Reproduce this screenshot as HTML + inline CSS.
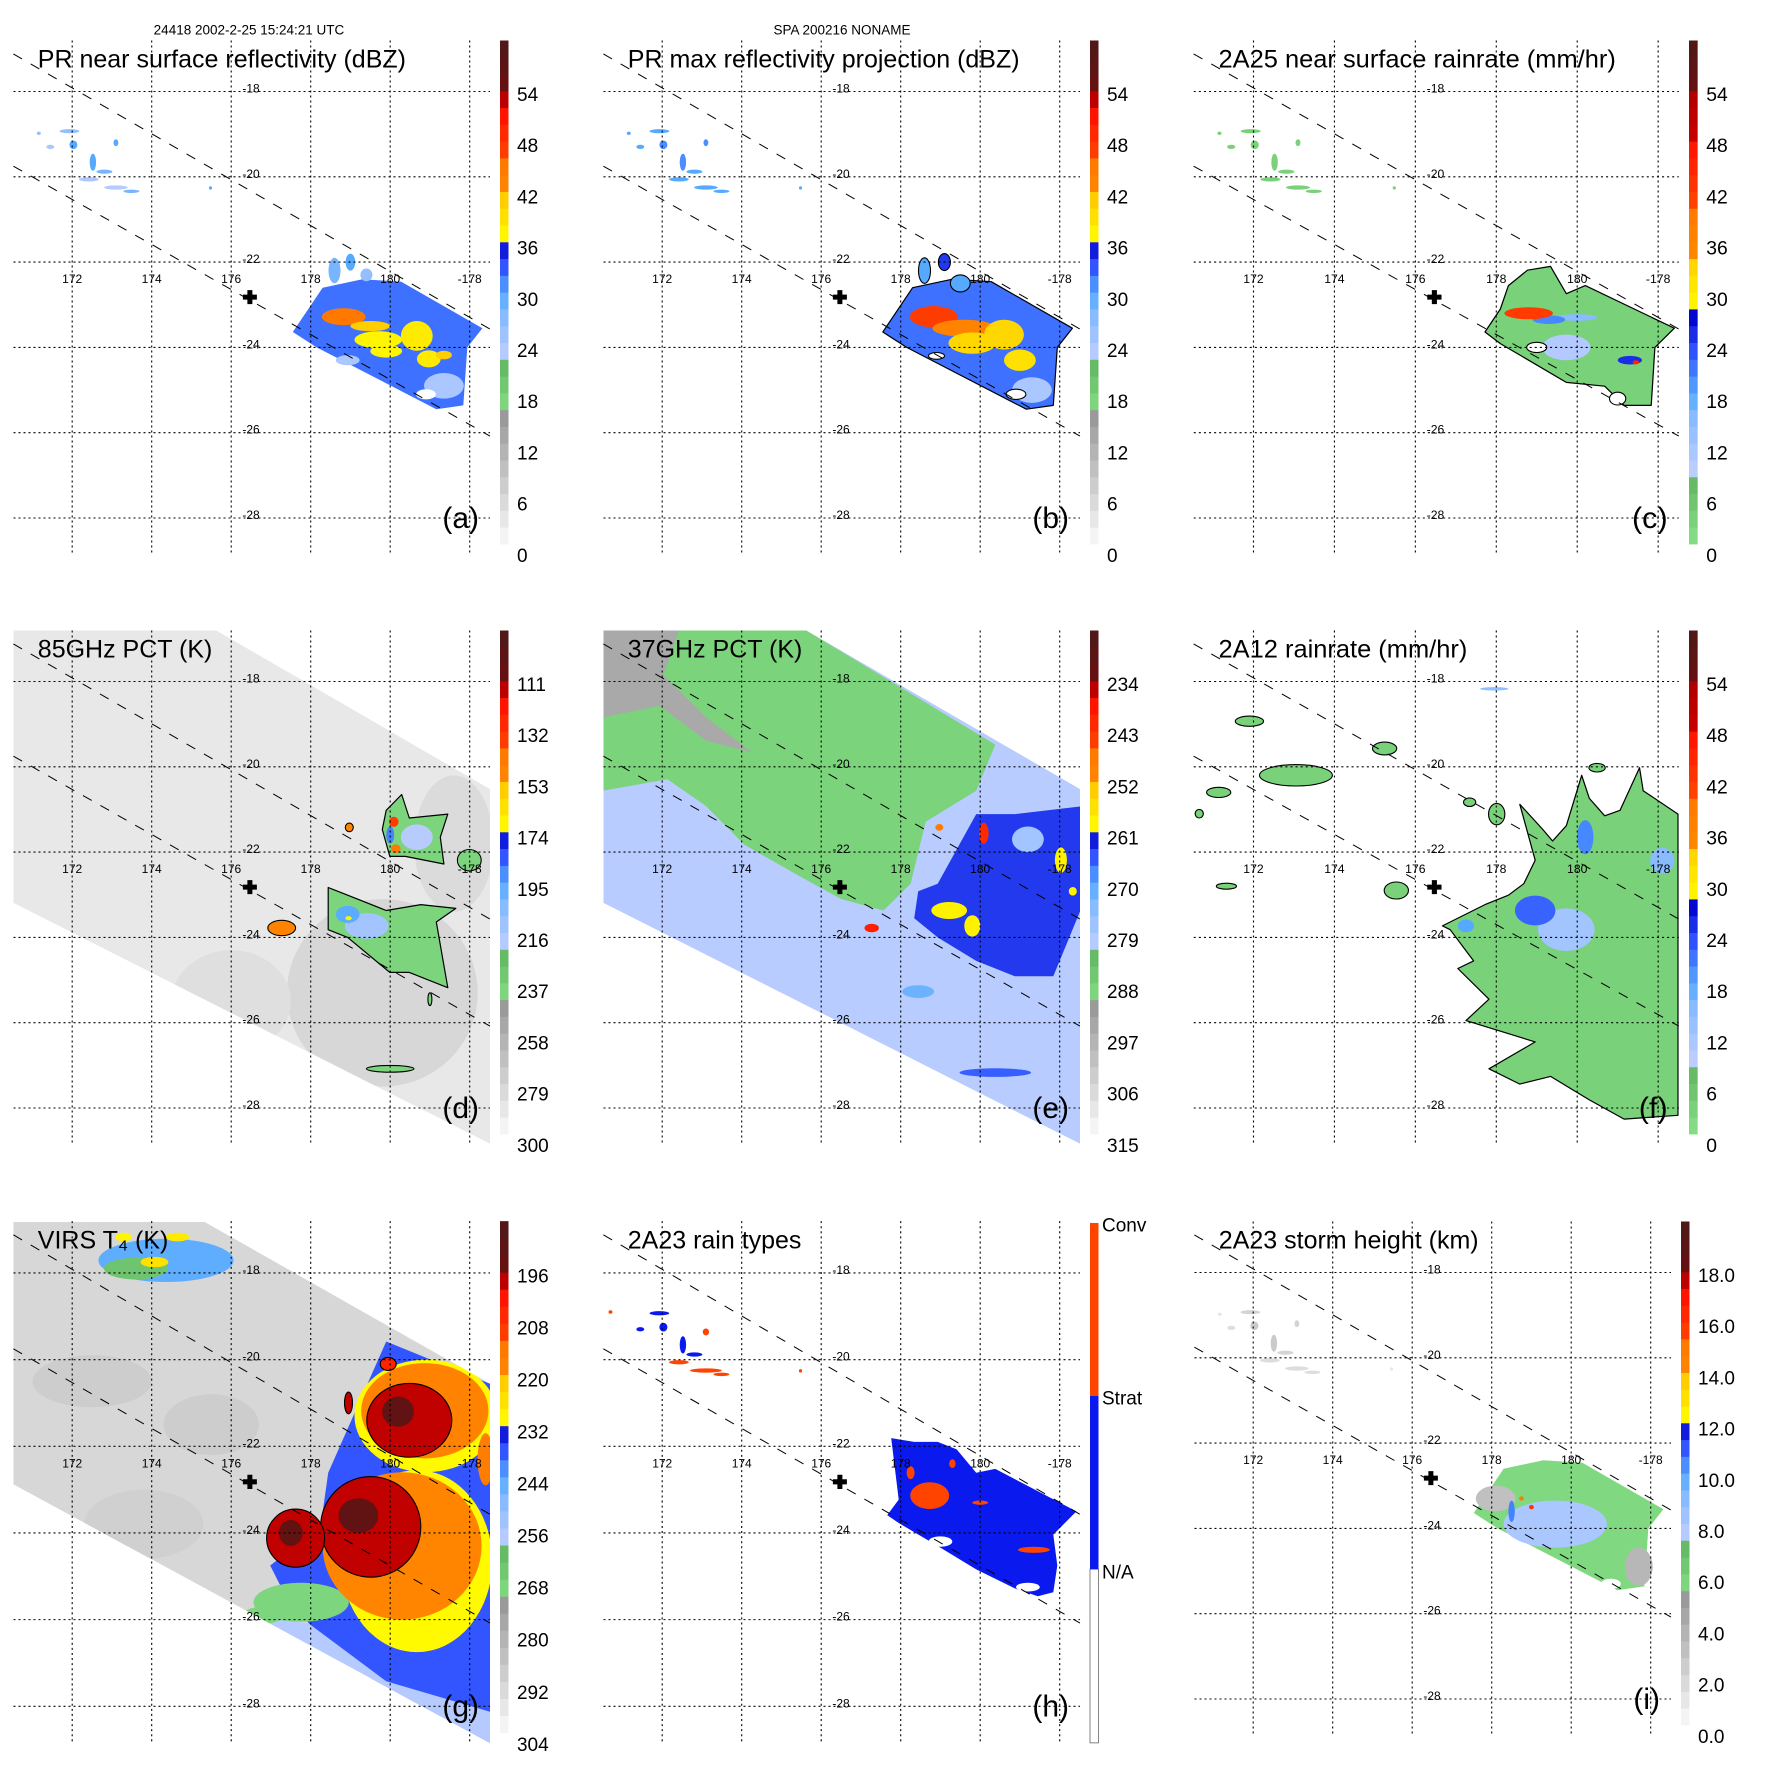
<!DOCTYPE html>
<html><head><meta charset="utf-8"><title>TRMM storm overview</title>
<style>html,body{margin:0;padding:0;background:#fff}svg{display:block}</style></head>
<body>
<svg id="fig" width="1771" height="1771" viewBox="0 0 1771 1771" xmlns="http://www.w3.org/2000/svg" font-family="'Liberation Sans', Arial, sans-serif">
<rect width="1771" height="1771" fill="#fff"/>
<text x="249" y="34.5" font-size="13.5" text-anchor="middle">24418 2002-2-25 15:24:21 UTC</text>
<text x="842" y="34.5" font-size="13.5" text-anchor="middle">SPA 200216 NONAME</text>
</svg>
<script>
const NS = 'http://www.w3.org/2000/svg';
// ---------- shared axis data ----------
const lonTicks = [172, 174, 176, 178, 180, 182];
const lonTickLabels = ['172', '174', '176', '178', '180', '-178'];
const latTicks = [-18, -20, -22, -24, -26, -28];
const latTickLabels = ['-18', '-20', '-22', '-24', '-26', '-28'];
const swathUpper = [[170.52, -17.12], [182.51, -23.57]];
const swathLower = [[170.52, -19.75], [182.51, -26.08]];
const stormCenter = [176.47, -22.82];

// ---------- colorbar tick labels ----------
const ticksDbz = ['0', '6', '12', '18', '24', '30', '36', '42', '48', '54'];
const ticksRain = ['0', '6', '12', '18', '24', '30', '36', '42', '48', '54'];
const ticks85 = ['300', '279', '258', '237', '216', '195', '174', '153', '132', '111'];
const ticks37 = ['315', '306', '297', '288', '279', '270', '261', '252', '243', '234'];
const ticksVirs = ['304', '292', '280', '268', '256', '244', '232', '220', '208', '196'];
const ticksHeight = ['0.0', '2.0', '4.0', '6.0', '8.0', '10.0', '12.0', '14.0', '16.0', '18.0'];
const rainTypeLabels = ['N/A', 'Strat', 'Conv'];

// ---------- field data (lon, lat) ----------
const prMain = [[177.55,-23.64],[178.3,-22.6],[179.3,-22.4],[180.28,-22.46],[182.32,-23.55],[181.94,-24.0],[181.84,-25.36],[181.16,-25.45],[178.15,-24.0]];
const tmiSwath = [[170.52,-16.8],[175.62,-16.8],[182.51,-20.52],[182.51,-28.84],[170.52,-23.19]];
const virsSwath = [[170.52,-16.82],[175.33,-16.82],[182.52,-20.56],[182.52,-28.85],[170.52,-22.88]];

// scatter: lon, lat, rlon, rlat, value
const aScatter = [[171.93,-18.93,.25,.05,26],[171.45,-19.3,.1,.05,24],[172.03,-19.25,.1,.1,30],[172.52,-19.66,.08,.2,30],[172.81,-19.88,.2,.05,28],[173.1,-19.2,.06,.08,30],[172.42,-20.06,.25,.05,24],[173.1,-20.25,.3,.05,23],[173.49,-20.34,.2,.04,28],[175.48,-20.26,.04,.04,30],[171.16,-18.98,.05,.04,26]];
const bScatter = [[171.93,-18.93,.25,.05,30],[171.45,-19.3,.1,.05,30],[172.03,-19.25,.1,.1,31],[172.52,-19.66,.08,.2,31],[172.81,-19.88,.2,.05,30],[173.1,-19.2,.06,.08,31],[172.42,-20.06,.25,.05,30],[173.1,-20.25,.3,.05,30],[173.49,-20.34,.2,.04,30],[175.48,-20.26,.04,.04,30],[171.16,-18.98,.05,.04,30]];
const cScatter = [[171.93,-18.93,.25,.05,3],[171.45,-19.3,.1,.05,3],[172.03,-19.25,.1,.1,3],[172.52,-19.66,.08,.2,3],[172.81,-19.88,.2,.05,3],[173.1,-19.2,.06,.08,3],[172.42,-20.06,.25,.05,3],[173.1,-20.25,.3,.05,3],[173.49,-20.34,.2,.04,3],[175.48,-20.26,.04,.04,3],[171.16,-18.98,.05,.04,3]];
const hScatter = [[171.93,-18.93,.25,.05,1],[171.45,-19.3,.1,.05,1],[172.03,-19.25,.1,.1,1],[172.52,-19.66,.08,.2,1],[172.81,-19.88,.2,.05,1],[173.1,-19.36,.08,.08,2],[172.42,-20.06,.25,.05,2],[173.1,-20.25,.4,.05,2],[173.49,-20.34,.2,.04,2],[175.48,-20.26,.04,.04,2],[170.7,-18.9,.05,.04,2]];
const iScatter = [[171.93,-18.93,.25,.05,2],[171.45,-19.3,.1,.05,1.5],[172.03,-19.25,.1,.1,2.5],[172.52,-19.66,.08,.2,2.5],[172.81,-19.88,.2,.05,2],[173.1,-19.2,.06,.08,2],[172.42,-20.06,.25,.05,1.5],[173.1,-20.25,.3,.05,1.5],[173.49,-20.34,.2,.04,1.5],[175.48,-20.26,.04,.04,1],[171.16,-18.98,.05,.04,1]];

// background shading blobs (drawn before regions)
const dBg = [[179.8,-25.3,2.4,2.2,281,0],[181.6,-21.8,1.0,1.6,283,0],[176.0,-25.5,1.5,1.2,285,0]];
const eBg = [];
const gBg = [[172.5,-20.5,1.5,0.6,290,0],[175.5,-21.5,1.2,0.7,290,0],[173.8,-23.8,1.5,0.8,291,0]];

// polygons: [value, outline, points]
const aPolys = [[32, 0, prMain]];
const bPolys = [[32, 1, prMain]];
const cPolys = [[3, 1, [[177.72,-23.64],[178.1,-23.1],[178.3,-22.55],[178.77,-22.19],[179.34,-22.1],[179.73,-22.74],[180.2,-22.55],[182.4,-23.55],[181.92,-24.0],[181.83,-25.36],[181.16,-25.36],[180.68,-24.91],[179.73,-24.82],[178.1,-23.91]]]];
const dPolys = [
  [240, 1, [[178.44,-22.83],[178.93,-23.01],[179.9,-23.37],[180.77,-23.23],[181.65,-23.32],[181.16,-23.64],[181.45,-25.18],[180.48,-24.82],[179.99,-24.82],[178.93,-24.0],[178.44,-23.82]]],
  [240, 1, [[179.9,-21.02],[180.29,-20.65],[180.48,-21.2],[181.45,-21.11],[181.26,-21.65],[181.35,-22.28],[180.38,-22.1],[179.99,-22.1],[179.8,-21.47]]]
];
const ePolys = [
  [289, 0, [[170.52,-16.8],[175.62,-16.8],[180.38,-19.48],[179.9,-20.56],[178.63,-21.29],[178.25,-22.74],[177.57,-23.37],[176.5,-23.1],[175.43,-22.55],[174.07,-21.83],[173.1,-20.92],[172.13,-20.29],[170.52,-20.56]]],
  [296, 0, [[170.52,-16.8],[172.42,-16.8],[172.03,-17.85],[173.1,-18.84],[174.26,-19.66],[173.1,-19.39],[171.93,-18.57],[170.52,-18.84]]],
  [264, 0, [[178.44,-22.92],[178.93,-22.74],[179.9,-21.11],[180.87,-21.11],[182.52,-20.93],[182.52,-23.37],[181.84,-24.91],[180.87,-24.91],[179.9,-24.55],[178.93,-24.0],[178.34,-23.55]]]
];
const fPolys = [[3, 1, [[176.67,-23.73],[177.72,-23.23],[178.3,-23.01],[178.68,-22.74],[178.96,-22.19],[178.58,-20.88],[179.15,-21.47],[179.39,-21.74],[179.73,-21.38],[180.11,-20.2],[180.3,-20.74],[180.68,-21.15],[181.06,-21.02],[181.54,-20.02],[181.63,-20.56],[182.49,-21.11],[182.49,-28.17],[181.16,-28.26],[180.3,-27.81],[179.34,-27.26],[178.58,-27.44],[177.82,-27.08],[178.96,-26.45],[177.25,-25.95],[177.82,-25.45],[177.05,-24.73],[177.44,-24.55],[176.86,-23.82]]]];
const gPolys = [
  [238, 0, [[178.44,-22.61],[179.9,-19.58],[182.52,-20.56],[182.52,-28.85],[181.84,-28.85],[178.93,-26.98],[177.47,-25.64],[176.98,-24.75],[178.25,-23.86]]],
  [258, 0, [[176.01,-25.82],[177.95,-26.09],[179.9,-27.42],[182.52,-28.13],[182.52,-28.85],[181.35,-28.85],[176.98,-26.53]]]
];
const hPolys = [[1, 0, [[177.66,-23.59],[177.95,-23.23],[177.76,-21.81],[178.34,-21.9],[178.93,-21.9],[179.41,-22.07],[179.9,-22.61],[180.38,-22.52],[182.42,-23.5],[181.84,-24.04],[181.94,-24.75],[181.84,-25.37],[181.45,-25.46],[180.87,-25.28],[179.9,-24.84],[178.93,-24.3],[177.95,-23.77]]]];
const iPolys = [[5.5, 0, prMain]];

// blobs: lon, lat, rlon, rlat, value, outline
const aBlobs = [[178.6,-22.2,.15,.3,28,0],[179.0,-22.0,.12,.2,30,0],[179.4,-22.3,.15,.15,26,0],[181.35,-24.9,.5,.3,24,0],[178.93,-24.3,.3,.12,24,0],[180.9,-25.1,.25,.12,null,0],[178.83,-23.28,.55,.2,46,0],[179.5,-23.5,.5,.12,41,0],[179.7,-23.82,.6,.2,37,0],[180.67,-23.73,.4,.35,38,0],[180.97,-24.27,.3,.2,38,0],[179.9,-24.09,.4,.15,37,0],[181.35,-24.18,.2,.1,41,0]];
const bBlobs = [[178.6,-22.2,.15,.3,30,1],[179.1,-22.0,.15,.2,34,1],[179.5,-22.5,.25,.2,30,1],[181.3,-25.0,.5,.3,24,0],[180.9,-25.1,.25,.12,null,1],[178.9,-24.2,.2,.08,null,1],[178.83,-23.28,.6,.25,47,0],[179.6,-23.55,.8,.2,43,0],[179.8,-23.9,.6,.25,40,0],[180.6,-23.7,.5,.35,40,0],[181.0,-24.3,.4,.25,39,0]];
const cBlobs = [[179.73,-24.0,.6,.3,10,0],[180.0,-23.3,.5,.08,15,0],[179.3,-23.35,.4,.1,20,0],[178.8,-23.2,.6,.14,42,0],[181.3,-24.3,.3,.1,25,0],[181.45,-24.35,.08,.05,45,0],[179.0,-24.0,.25,.12,null,1],[181.0,-25.2,.2,.15,null,1]];
const dBlobs = [[179.41,-23.73,.55,.3,214,0],[178.93,-23.46,.3,.2,196,0],[178.95,-23.55,.08,.05,170,0],[180.67,-21.65,.4,.3,220,0],[180.0,-21.6,.1,.2,190,0],[180.09,-21.29,.12,.12,135,0],[180.14,-21.92,.12,.1,140,0],[177.27,-23.78,.35,.18,150,1],[178.97,-21.42,.1,.1,150,1],[181.99,-22.19,.3,.25,240,1],[180.0,-27.08,.6,.08,240,1],[181.0,-25.45,.05,.15,240,1]];
const eBlobs = [[181.2,-21.7,.4,.3,278,0],[178.44,-25.27,.4,.15,272,0],[180.38,-27.17,.9,.1,266,0],[179.22,-23.37,.45,.2,259,0],[179.8,-23.73,.2,.25,259,0],[182.03,-22.19,.15,.3,259,0],[182.33,-22.92,.1,.1,259,0],[180.09,-21.56,.12,.25,242,0],[177.27,-23.78,.18,.1,240,0],[178.97,-21.42,.1,.08,247,0]];
const fBlobs = [[179.73,-23.82,.7,.5,12,0],[182.1,-22.2,.3,.3,15,0],[178.96,-23.37,.5,.35,22,0],[180.2,-21.65,.2,.4,20,0],[177.25,-23.73,.2,.15,18,0],[173.05,-20.2,.9,.25,3,1],[171.9,-18.93,.35,.12,3,1],[175.24,-19.57,.3,.15,3,1],[171.14,-20.6,.3,.12,3,1],[175.53,-22.9,.3,.2,3,1],[178.01,-21.11,.2,.25,3,1],[177.34,-20.83,.15,.1,3,1],[180.49,-20.02,.2,.1,3,1],[171.33,-22.8,.25,.07,3,1],[170.66,-21.1,.1,.1,3,1],[177.95,-18.17,.35,.04,14,0]];
const gBlobs = [[177.76,-25.6,1.2,.45,270,0],[176.8,-25.9,.5,.2,270,0],[174.36,-17.71,1.7,.5,245,0],[173.6,-17.9,.8,.25,265,0],[174.65,-17.17,.3,.1,228,0],[174.07,-17.75,.35,.12,226,0],[173.29,-17.17,.2,.1,230,0],[180.67,-24.65,1.9,2.1,231,0],[180.3,-24.3,2.0,1.7,220,0],[179.51,-23.86,1.26,1.16,199,1],[179.2,-23.6,.5,.4,192,0],[177.62,-24.12,.73,.67,199,1],[177.5,-24.0,.3,.3,193,0],[180.9,-21.3,1.8,1.3,231,0],[180.87,-21.18,1.6,1.1,218,0],[180.48,-21.4,1.07,.85,199,1],[180.2,-21.2,.4,.35,192,0],[179.95,-20.1,.2,.15,205,1],[178.95,-21.0,.1,.25,199,1],[182.4,-22.3,.2,.6,215,0]];
const hBlobs = [[181.2,-25.25,.3,.1,null,0],[179.0,-24.2,.3,.12,null,0],[178.73,-23.14,.49,.31,2,0],[178.25,-22.61,.1,.15,2,0],[181.35,-24.39,.4,.07,2,0],[180.0,-23.3,.2,.05,2,0],[179.3,-22.4,.08,.1,2,0]];
const iBlobs = [[180.5,-23.0,.5,.3,5.5,0],[179.6,-23.9,1.3,.55,8,0],[181.7,-24.9,.35,.45,3.5,0],[178.1,-23.3,.5,.3,3,0],[181.0,-25.3,.25,.12,null,0],[178.5,-23.6,.08,.25,10.5,0],[178.75,-23.3,.06,.05,15,0],[179.0,-23.5,.06,.05,16,0]];

// ---------- palettes ----------
const palA = [[0,'#fafafa'],[0.25,'#9a9a9a'],[0.2501,'#88e288'],[0.35,'#66bb66'],[0.3501,'#ccd2ff'],[0.45,'#88bbff'],[0.5,'#55aaff'],[0.55,'#3355ff'],[0.6,'#0000cc'],[0.6001,'#ffff00'],[0.685,'#ffcc00'],[0.6851,'#ff8800'],[0.77,'#ff7700'],[0.7701,'#ff4400'],[0.855,'#ff1100'],[0.8551,'#cc0000'],[0.915,'#aa0000'],[0.9151,'#661111'],[1,'#4d1a1a']];
const palC = [[0,'#88e288'],[0.117,'#66bb66'],[0.1171,'#ccd2ff'],[0.25,'#88bbff'],[0.3,'#55aaff'],[0.38,'#3355ff'],[0.456,'#0000cc'],[0.4561,'#ffff00'],[0.575,'#ffcc00'],[0.5751,'#ff8800'],[0.678,'#ff7700'],[0.6781,'#ff4400'],[0.797,'#ff1100'],[0.7971,'#cc0000'],[0.912,'#aa0000'],[0.9121,'#661111'],[1,'#4d1a1a']];

function hex2rgb(h){return [parseInt(h.slice(1,3),16),parseInt(h.slice(3,5),16),parseInt(h.slice(5,7),16)];}
function palColor(pal,f){
  f=Math.max(0,Math.min(1,f));
  for(let i=1;i<pal.length;i++){
    if(f<=pal[i][0]){
      const a=pal[i-1],b=pal[i];
      const t=(b[0]-a[0])>0?(f-a[0])/(b[0]-a[0]):0;
      const ca=hex2rgb(a[1]),cb=hex2rgb(b[1]);
      return 'rgb('+ca.map((c,j)=>Math.round(c+(cb[j]-c)*t)).join(',')+')';
    }
  }
  return pal[pal.length-1][1];
}

// ---------- axis functions ----------
function xOf(lon){return 72.2+(lon-172)*39.75;}
function yOf(lat){return 91.5+(-18-lat)*42.65;}
function pts(arr){return arr.map(p=>xOf(p[0]).toFixed(1)+','+yOf(p[1]).toFixed(1)).join(' ');}

const panels = [
 {k:'a',ox:0,oy:0,sx:1,sy:1,title:'PR near surface reflectivity (dBZ)',pal:palA,vmin:0,vmax:60,ticks:ticksDbz,bg:[],polys:aPolys,blobs:aBlobs,scatter:aScatter},
 {k:'b',ox:590,oy:0,sx:1,sy:1,title:'PR max reflectivity projection (dBZ)',pal:palA,vmin:0,vmax:60,ticks:ticksDbz,bg:[],polys:bPolys,blobs:bBlobs,scatter:bScatter},
 {k:'c',ox:1180,oy:0,sx:1.018,sy:1,title:'2A25 near surface rainrate (mm/hr)',pal:palC,vmin:0,vmax:60,ticks:ticksRain,bg:[],polys:cPolys,blobs:cBlobs,scatter:cScatter},
 {k:'d',ox:0,oy:590,sx:1,sy:1,title:'85GHz PCT (K)',pal:palA,vmin:300,vmax:90,ticks:ticks85,swath:tmiSwath,swathVal:290,bg:dBg,polys:dPolys,blobs:dBlobs,scatter:[]},
 {k:'e',ox:590,oy:590,sx:1,sy:1,title:'37GHz PCT (K)',pal:palA,vmin:315,vmax:225,ticks:ticks37,swath:tmiSwath,swathVal:281,bg:eBg,polys:ePolys,blobs:eBlobs,scatter:[]},
 {k:'f',ox:1180,oy:590,sx:1.018,sy:1,title:'2A12 rainrate (mm/hr)',pal:palC,vmin:0,vmax:60,ticks:ticksRain,bg:[],polys:fPolys,blobs:fBlobs,scatter:[]},
 {k:'g',ox:0,oy:1180,sx:1,sy:1.016,title:'VIRS T\u2084 (K)',pal:palA,vmin:304,vmax:184,ticks:ticksVirs,swath:virsSwath,swathVal:293,bg:gBg,polys:gPolys,blobs:gBlobs,scatter:[]},
 {k:'h',ox:590,oy:1180,sx:1,sy:1.016,title:'2A23 rain types',discrete:true,bg:[],polys:hPolys,blobs:hBlobs,scatter:hScatter},
 {k:'i',ox:1181,oy:1181,sx:1,sy:1,title:'2A23 storm height (km)',pal:palA,vmin:0,vmax:20,ticks:ticksHeight,bg:[],polys:iPolys,blobs:iBlobs,scatter:iScatter}
];

function colorFor(p,v){
  if(v===null) return '#ffffff';
  if(p.discrete) return v===2?'#ff4400':(v===1?'#0a1aee':'#ffffff');
  return palColor(p.pal,(v-p.vmin)/(p.vmax-p.vmin));
}
function mk(tag,attrs,parent){const e=document.createElementNS(NS,tag);for(const k in attrs)e.setAttribute(k,attrs[k]);parent.appendChild(e);return e;}
function drawBlob(p,b,parent){
  const e=mk('ellipse',{cx:xOf(b[0]).toFixed(1),cy:yOf(b[1]).toFixed(1),rx:(b[2]*39.75).toFixed(1),ry:(b[3]*42.65).toFixed(1),fill:colorFor(p,b[4]),stroke:b[5]?'#000':'none','stroke-width':1.1},parent);
  
  
}

const fig=document.getElementById('fig');
const defs=mk('defs',{},fig);

panels.forEach(p=>{
  const g=mk('g',{transform:`translate(${p.ox},${p.oy}) scale(${p.sx},${p.sy})`},fig);
  
  
  const cp=mk('clipPath',{id:'clip'+p.k},defs);
  mk('rect',{x:13.5,y:40.5,width:476.5,height:513.5},cp);
  const clipInner=mk('clipPath',{id:'swclip'+p.k},defs);
  if(p.swath) mk('polygon',{points:pts(p.swath)},clipInner); else mk('rect',{x:0,y:0,width:600,height:600},clipInner);
  const outer=mk('g',{'clip-path':`url(#clip${p.k})`},g);
  const data=mk('g',{'clip-path':`url(#swclip${p.k})`},outer);
  
  
  if(p.swath){
    const s=mk('polygon',{points:pts(p.swath),fill:colorFor(p,p.swathVal)},data);
    
    
  }
  p.bg.forEach(b=>drawBlob(p,b,data));
  p.polys.forEach(pl=>{
    const e=mk('polygon',{points:pts(pl[2]),fill:colorFor(p,pl[0]),stroke:pl[1]?'#000':'none','stroke-width':1.2,'stroke-linejoin':'round'},data);
    
    
  });
  p.blobs.concat(p.scatter).forEach(b=>drawBlob(p,b,data));
  // grid
  lonTicks.forEach((lon,i)=>{
    const l=mk('line',{x1:xOf(lon),x2:xOf(lon),y1:40.5,y2:554,stroke:'#000','stroke-width':1.1,'stroke-dasharray':'2 3'},g);
    
    
    const t=mk('text',{x:xOf(lon),y:283,'font-size':12,'text-anchor':'middle'},g);
    t.textContent=lonTickLabels[i];
    
    
  });
  latTicks.forEach((lat,i)=>{
    const l=mk('line',{x1:13.5,x2:490,y1:yOf(lat),y2:yOf(lat),stroke:'#000','stroke-width':1.1,'stroke-dasharray':'2 3'},g);
    
    
    const t=mk('text',{x:251,y:yOf(lat)+1,'font-size':12,'text-anchor':'middle'},g);
    t.textContent=latTickLabels[i];
    
    
  });
  [swathUpper,swathLower].forEach(s=>{
    const l=mk('line',{x1:xOf(s[0][0]),y1:yOf(s[0][1]),x2:xOf(s[1][0]),y2:yOf(s[1][1]),stroke:'#000','stroke-width':1,'stroke-dasharray':'10 10'},g);
    
    
  });
  const cx=xOf(stormCenter[0]),cy=yOf(stormCenter[1]);
  const cross=mk('path',{d:`M${cx-7},${cy-2.5}h14v5h-14z M${cx-2.5},${cy-7}h5v14h-5z`,fill:'#000'},g);
  
  
  const tt=mk('text',{x:37.8,y:67.6,'font-size':25},g);
  tt.textContent=p.title;
  
  
  const pl=mk('text',{x:479,y:528,'font-size':30,'text-anchor':'end'},g);
  pl.textContent='('+p.k+')';
  
  
  // colorbar
  const cb=mk('g',{},g);
  
  
  if(p.discrete){
    const segs=[['#ffffff',383,554],['#0a1aee',212.6,383],['#ff4400',42.3,212.6]];
    segs.forEach((s,i)=>{
      const r=mk('rect',{x:500,y:s[1],width:8.5,height:s[2]-s[1],fill:s[0],stroke:i===0?'#666':'none','stroke-width':0.8},cb);
      
      
      const t=mk('text',{x:512,y:[385,214,43.7][i]+7,'font-size':19},cb);
      t.textContent=rainTypeLabels[i];
      
      
    });
  } else {
    const n=30,top=40.5,bot=544,h=(bot-top)/n;
    for(let i=0;i<n;i++){
      const f=(i+0.5)/n;
      const r=mk('rect',{x:500,y:(bot-(i+1)*h).toFixed(2),width:8.5,height:(h+0.4).toFixed(2),fill:palColor(p.pal,f)},cb);
      
      
    }
    p.ticks.forEach((lab,k)=>{
      const yc=554.8-k*51.2;
      const t=mk('text',{x:517,y:yc+7,'font-size':19},cb);
      t.textContent=lab;
      
      
    });
  }
});
</script>
</body></html>
